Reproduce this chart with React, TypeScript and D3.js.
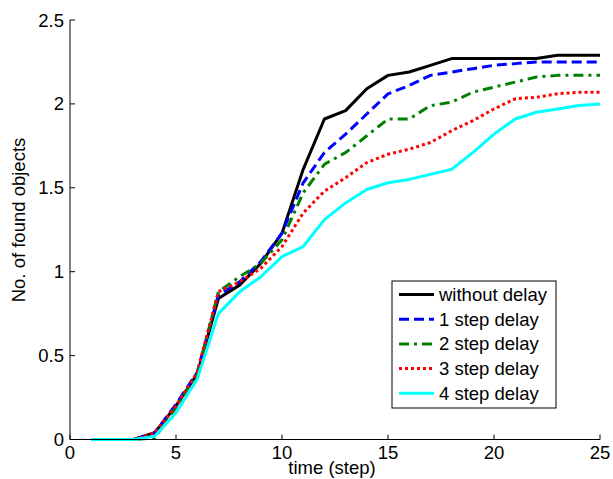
import React from "react";
import * as d3 from "d3";

const steps = d3.range(1, 26);
const seriesNames = ["without delay", "1 step delay", "2 step delay", "3 step delay", "4 step delay"];
const withoutDelay = [0, 0, 0, 0.04, 0.2, 0.39, 0.84, 0.92, 1.05, 1.23, 1.61, 1.91, 1.96, 2.09, 2.17, 2.19, 2.23, 2.27, 2.27, 2.27, 2.27, 2.27, 2.29, 2.29, 2.29];
const delay1 = [0, 0, 0, 0.04, 0.21, 0.4, 0.86, 0.94, 1.06, 1.23, 1.53, 1.71, 1.82, 1.94, 2.06, 2.11, 2.17, 2.19, 2.21, 2.23, 2.24, 2.25, 2.25, 2.25, 2.25];
const delay2 = [0, 0, 0, 0.01, 0.19, 0.39, 0.88, 0.97, 1.05, 1.19, 1.47, 1.64, 1.71, 1.81, 1.91, 1.91, 1.99, 2.01, 2.07, 2.1, 2.13, 2.16, 2.17, 2.17, 2.17];
const delay3 = [0, 0, 0, 0.04, 0.2, 0.4, 0.88, 0.94, 1.02, 1.15, 1.35, 1.48, 1.56, 1.65, 1.7, 1.73, 1.77, 1.84, 1.9, 1.97, 2.03, 2.04, 2.06, 2.07, 2.07];
const delay4 = [0, 0, 0, 0.02, 0.16, 0.36, 0.75, 0.88, 0.97, 1.09, 1.15, 1.31, 1.41, 1.49, 1.53, 1.55, 1.58, 1.61, 1.71, 1.82, 1.91, 1.95, 1.97, 1.99, 2.0];
const xTicks = [0, 5, 10, 15, 20, 25];
const yTicks = [0, 0.5, 1, 1.5, 2, 2.5];

const allSeries = [withoutDelay, delay1, delay2, delay3, delay4];
const colors = ["#000000", "#0000ff", "#008000", "#ff0000", "#00ffff"];
const dashes = ["none", "10,5", "10,5,3,5", "3,3", "none"];

export default function App() {
  const W = 613, H = 479;
  const x = d3.scaleLinear().domain([0, 25]).range([70, 600]);
  const y = d3.scaleLinear().domain([0, 2.5]).range([439.5, 20]);
  const line = d3.line<number>().x((_, i) => x(steps[i])).y((d) => y(d));
  const font = "'Liberation Sans', Arial, sans-serif";
  const lx0 = 392, ly0 = 281, lw = 164, lh = 127;
  return (
    <svg width={W} height={H} style={{ position: "absolute", left: 0, top: 0, background: "#fff" }} fontFamily={font}>
      <rect width={W} height={H} fill="#fff" />
      {allSeries.map((s, k) => (
        <path key={k} d={line(s) || ""} fill="none" stroke={colors[k]} strokeWidth={3} strokeDasharray={dashes[k]} strokeLinejoin="round" />
      ))}
      <line x1={x(0)} x2={x(0)} y1={y(2.5)} y2={y(0)} stroke="#000" strokeWidth={1} />
      <line x1={x(0)} x2={x(25)} y1={y(0)} y2={y(0)} stroke="#000" strokeWidth={1} />
      {xTicks.map((t) => (
        <g key={"x" + t}>
          <line x1={x(t)} x2={x(t)} y1={y(0)} y2={y(0) - 5} stroke="#000" />
          <text x={x(t)} y={459} fontSize={18.5} textAnchor="middle">{t}</text>
        </g>
      ))}
      {yTicks.map((t) => (
        <g key={"y" + t}>
          <line x1={x(0)} x2={x(0) + 5} y1={y(t)} y2={y(t)} stroke="#000" />
          <text x={64} y={y(t) + 6.5} fontSize={18.5} textAnchor="end">{t}</text>
        </g>
      ))}
      <text x={332} y={474} fontSize={18.5} textAnchor="middle">time (step)</text>
      <text transform={`translate(25,220) rotate(-90)`} fontSize={18.5} textAnchor="middle">No. of found objects</text>
      <rect x={lx0} y={ly0} width={lw} height={lh} fill="#fff" stroke="#000" strokeWidth={1} />
      {seriesNames.map((n, k) => {
        const cy = 294.5 + k * 24.7;
        return (
          <g key={n}>
            <line x1={399} x2={434} y1={cy} y2={cy} stroke={colors[k]} strokeWidth={3} strokeDasharray={dashes[k]} />
            <text x={439} y={cy + 6.5} fontSize={18.5}>{n}</text>
          </g>
        );
      })}
    </svg>
  );
}
